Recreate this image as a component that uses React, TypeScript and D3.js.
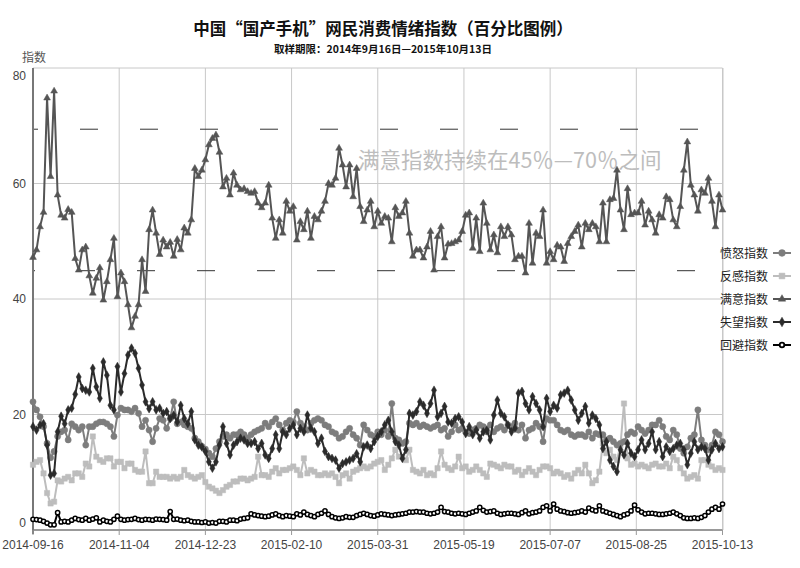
import React from "react";
import * as d3 from "d3";

const titleText = "中国“国产手机”网民消费情绪指数（百分比图例）";
const subtitleText = "取样期限：2014年9月16日—2015年10月13日";
const yAxisTitle = "指数";
const noteText = "满意指数持续在45％—70％之间";
const startDate = "2014-09-16";
const endDate = "2015-10-13";
const stepDays = 2;
const xTickLabels = ["2014-09-16", "2014-11-04", "2014-12-23", "2015-02-10", "2015-03-31", "2015-05-19", "2015-07-07", "2015-08-25", "2015-10-13"];
const yTicks = [0, 20, 40, 60, 80];
const bandValues = [44.9, 69.4];
const seriesNames = ["愤怒指数", "反感指数", "满意指数", "失望指数", "回避指数"];

const anger = [
  22.2, 20.8, 19.6, 17.9, 15, 12.5, 13.6, 16.2, 17, 17.3,
  15.6, 18.4, 17.9, 17.3, 17.9, 14.7, 17.9, 17.9, 18.4, 18.7,
  18.7, 18.4, 17.9, 16.2, 19.9, 21.1, 20.8, 20.8, 20.5, 21.1,
  20.2, 17.9, 19, 17.3, 15.3, 17.6, 19.3, 19, 17.6, 19.3,
  22.2, 18.4, 18.7, 18.2, 17.9, 17.6, 15.9, 15.3, 14.5, 14,
  13.3, 12.7, 14.1, 15.3, 16.2, 16.5, 15.9, 16.5, 16.5, 17,
  16.5, 15.9, 16.5, 17, 17.3, 17.6, 18.5, 17.9, 18.7, 19.3,
  18.2, 17.3, 18.5, 19, 18.7, 20.5, 18.5, 17.9, 17.3, 18.5,
  19, 19.3, 19, 18.2, 17.9, 17, 16.7, 15.9, 16.2, 17,
  17.6, 16.5, 15.9, 14.7, 18.2, 17.3, 16.5, 16.2, 17, 16.5,
  17.3, 16.2, 21.9, 15.9, 15.6, 15, 15.3, 18.5, 18.2, 18.5,
  17.9, 18.2, 17.9, 17.6, 17.9, 18.2, 17.3, 17.6, 16.2, 17,
  18.2, 17.3, 17.6, 17, 16.7, 17.3, 17.6, 18.2, 17.9, 17,
  18.2, 17, 17.6, 17.9, 17.3, 18.2, 17.9, 18.5, 17.3, 18.2,
  15.9, 17.3, 17.6, 18.5, 17.9, 15.3, 19.3, 19, 19, 18.2,
  17.3, 17, 17.3, 16.5, 16.2, 16.5, 16.5, 16.2, 17, 15.9,
  16.7, 16.5, 16.5, 15.6, 15.9, 15.3, 14.7, 15, 15.3, 16.5,
  17, 16.7, 17.9, 17.3, 16.7, 17.3, 18.2, 18.2, 19, 17.9,
  16.2, 15.6, 17.3, 16.5, 14.1, 13.3, 14.4, 15.9, 16.5, 20.8,
  15.6, 14.7, 13.9, 14.7, 17, 16.5, 15.3,
];

const disgust = [
  11.3, 11.8, 12.1, 9.8, 6.4, 4.6, 4.9, 8.6, 8.4, 8.9,
  9.2, 8.6, 9.8, 9.8, 9.2, 11.5, 11, 16.2, 12.7, 12.1,
  11.8, 12.4, 12.4, 11, 11.8, 11.8, 10.7, 11.5, 11.5, 10.4,
  10.1, 10.1, 13.6, 8.1, 8.1, 10.1, 9.2, 9.2, 9.2, 8.9,
  9.2, 8.9, 9.2, 10.4, 9.5, 9.2, 8.9, 9.2, 9.5, 8.3,
  7.5, 7.2, 6.8, 6.4, 6.9, 7.5, 7.8, 8.4, 8.4, 8.9,
  8.9, 8.6, 8.9, 9.2, 12.7, 9.5, 9.5, 9.2, 10.1, 10.7,
  9.8, 10.4, 10.4, 10.7, 11, 10.4, 9.5, 12.4, 9.8, 10.4,
  10.1, 9.5, 9.5, 9.8, 9.5, 9.8, 9.2, 8.1, 9.5, 9.8,
  8.9, 10.1, 10.4, 10.7, 11, 10.7, 11, 11.5, 11.8, 12.1,
  10.4, 11.3, 12.4, 13.9, 12.7, 12.7, 12.1, 13.9, 10.4, 10.1,
  9.8, 10.4, 9.5, 9.8, 9.5, 10.7, 13.6, 11.3, 10.7, 10.4,
  11, 12.7, 10.7, 11, 10.1, 10.4, 11, 10.4, 9.8, 9.2,
  11.5, 11.3, 11, 10.7, 11.3, 11, 11, 10.1, 10.4, 9.5,
  10.1, 10.7, 10.1, 9.5, 10.4, 11, 11, 10.7, 9.8, 10.1,
  9.8, 9.2, 9.5, 8.9, 9.8, 10.4, 9.8, 11.3, 9.8, 8.1,
  8.6, 10.1, 15, 13.3, 13.9, 12.7, 12.1, 14.7, 21.9, 12.4,
  11.3, 11.5, 11, 11.3, 11, 10.7, 11.3, 11.5, 11, 11,
  11.5, 10.7, 12.7, 12.1, 10.7, 9.8, 8.9, 9.2, 9.5, 8.9,
  12.1, 12.1, 11.3, 11, 10.4, 10.7, 10.4,
];

const satisfaction = [
  47.2, 48.5, 52.5, 55, 74.8, 61.2, 76, 58, 54.5, 54,
  55.5, 55, 47, 45, 48.5, 49, 44, 41, 43.6, 45.4,
  39.8, 43, 46.8, 50.5, 40.4, 44.5, 43, 39, 35, 37,
  39, 46.8, 41.3, 52, 55.4, 51.4, 47.7, 50.2, 49, 49.8,
  47.4, 50.3, 48.5, 52.3, 51.4, 53.7, 62.6, 61.2, 62.3, 64.1,
  66.7, 67.8, 68.4, 65.4, 59.4, 60.9, 58, 61.8, 59.7, 58.9,
  59.1, 58.6, 58.3, 58.6, 56.6, 55.8, 56.6, 59.7, 54, 50.5,
  53.7, 51.4, 56.9, 55.2, 56, 50.2, 53.4, 52, 55.2, 50.5,
  54.3, 53.7, 55.2, 56.9, 60, 59.7, 60.9, 66.1, 63.2, 59.4,
  63.2, 57.7, 62.6, 56, 53.4, 55.4, 56.9, 52.5, 55.2, 53.1,
  54.3, 54, 49.9, 55.8, 54.3, 54.9, 56.9, 51.4, 47.4, 48.5,
  48.5, 47.1, 49, 51.7, 45, 50.8, 52.5, 47.1, 49.5, 49.6,
  49.9, 50.2, 51.7, 54.5, 54.9, 48.8, 54, 48.2, 56.6, 53.1,
  48.5, 51.1, 48, 52.5, 50.8, 52.5, 51.1, 46.8, 47.4, 47.4,
  44.5, 53.1, 46.2, 51.4, 50.8, 55.4, 46.2, 48.2, 46.8, 49.3,
  49, 46.5, 49.6, 50.8, 51.7, 52.8, 49, 53.1, 52, 53.1,
  52.5, 49.9, 56.6, 49.9, 57.2, 57.4, 62.3, 55.4, 52, 59.1,
  54.6, 54.9, 54.9, 56.9, 52.8, 55.2, 53.7, 51.4, 54.6, 54,
  57.7, 57.2, 53.7, 52.5, 56, 62.3, 67.2, 59.7, 58, 55.2,
  58.9, 58.3, 60.9, 56.9, 52.5, 58, 55.4,
];

const disappointment = [
  17.9, 17.3, 18.2, 18.4, 14.7, 9.5, 9.8, 17, 19.7, 18.4,
  20.8, 21.1, 23.5, 26.5, 24.5, 24.2, 23.9, 28, 24.8, 22.8,
  29.1, 26.8, 21.6, 20.8, 28.3, 23.9, 27.1, 30.3, 31.5, 30.6,
  28, 25.1, 22.2, 21, 22.2, 20.8, 21.1, 20.2, 20.5, 19.3,
  19.9, 18.7, 21.6, 19.3, 18.4, 20.5, 15.6, 14.7, 14.4, 13.6,
  11.8, 10.7, 11.8, 14.7, 17.9, 15, 13, 14.7, 15.3, 15.9,
  15.6, 15, 15, 15.3, 14.1, 15, 13, 12.4, 14.1, 16.5,
  14.1, 17, 16.5, 17.6, 18.2, 16.5, 17.6, 17, 19.9, 17.6,
  17, 15, 15.9, 13.6, 12.7, 12.4, 12.1, 10.7, 11.5, 11.8,
  12.1, 12.4, 13.2, 11.8, 14.4, 14.7, 14.1, 15.3, 16.2, 17,
  18.2, 19, 17, 15.3, 14.7, 12.4, 13.9, 20.2, 19.9, 20.5,
  22.2, 21.6, 20.2, 21.9, 24.2, 19.6, 20.2, 21.4, 18.7, 18.5,
  19.3, 19.6, 18.7, 16.7, 17.9, 16.5, 17.3, 15.9, 17, 17.3,
  15.6, 19.9, 22.5, 20.2, 19.6, 18.2, 17, 17.6, 23.7, 24,
  21.9, 20.8, 23.1, 21.9, 20.8, 17.9, 22.8, 20.5, 21.6, 21.1,
  23.4, 23.7, 24.2, 22.5, 20.8, 19, 20.2, 21.4, 18.5, 19.9,
  19.3, 18.2, 14.1, 15.3, 12.1, 11, 10.1, 13.9, 13, 15,
  13.3, 12.7, 13.9, 15.6, 13.9, 15, 17, 13.9, 15.3, 12.7,
  14.4, 13.6, 14.1, 14.7, 15, 13.9, 11.3, 13.3, 15.3, 13.9,
  14.4, 14.1, 12.1, 13.9, 15, 14.1, 14.4,
];

const avoidance = [
  1.85, 1.8, 1.7, 1.5, 1.2, 0.9, 0.9, 3.0, 1.4, 1.5,
  1.4, 1.7, 2.0, 1.8, 1.7, 2.0, 1.7, 1.9, 2.1, 1.4,
  1.7, 1.5, 1.4, 1.85, 2.4, 1.85, 1.7, 1.8, 1.85, 2.0,
  1.8, 1.7, 1.85, 1.8, 1.7, 1.9, 1.85, 1.8, 1.7, 3.2,
  1.85, 1.9, 1.7, 1.6, 1.7, 1.5, 1.4, 1.4, 1.3, 1.4,
  1.2, 1.3, 1.2, 1.5, 1.5, 1.4, 1.7, 1.7, 1.6, 1.9,
  2.0, 2.1, 2.8, 2.6, 2.5, 2.4, 2.3, 2.4, 2.6, 2.8,
  2.5, 2.3, 2.5, 2.4, 2.3, 2.8, 2.6, 3.1, 2.7, 2.5,
  2.3, 2.7, 2.9, 3.3, 2.7, 2.3, 2.1, 2.0, 2.1, 2.3,
  2.2, 2.2, 2.5, 2.7, 2.9, 2.7, 2.5, 2.4, 2.6, 2.8,
  2.7, 2.6, 2.5, 2.6, 2.7, 2.8, 2.9, 3.1, 3.1, 3.2,
  3.1, 3.1, 2.9, 2.8, 2.9, 3.1, 3.9, 3.2, 3.1, 2.9,
  2.8, 2.9, 2.8, 2.7, 2.9, 3.1, 3.3, 3.9, 3.4, 3.1,
  3.2, 3.3, 2.9, 2.7, 2.8, 2.9, 2.9, 2.8, 2.7, 3.0,
  3.3, 2.8, 3.0, 3.1, 3.3, 3.9, 4.2, 3.3, 4.5, 3.6,
  3.3, 3.2, 3.0, 2.9, 3.0, 3.1, 3.3, 3.1, 3.8, 3.5,
  3.3, 4.2, 3.3, 3.1, 2.9, 2.7, 2.5, 2.3, 2.6, 2.8,
  3.3, 4.3, 3.5, 3.1, 2.8, 2.9, 2.9, 2.8, 2.7, 2.7,
  2.8, 2.9, 3.1, 2.8, 2.5, 2.1, 2.0, 2.0, 2.1, 2.0,
  2.2, 2.5, 3.1, 3.6, 3.9, 3.6, 4.5,
];

const seriesValues = [anger, disgust, satisfaction, disappointment, avoidance];

// styles (kept apart from the data)
const seriesStyles = [
  { color: "#7d7d7d", fill: "#7d7d7d", symbol: d3.symbolCircle, size: 30, width: 2 },
  { color: "#bdbdbd", fill: "#bdbdbd", symbol: d3.symbolSquare, size: 28, width: 2 },
  { color: "#555555", fill: "#555555", symbol: d3.symbolTriangle, size: 20, width: 2 },
  { color: "#2b2b2b", fill: "#2b2b2b", symbol: d3.symbolDiamond, size: 22, width: 2 },
  { color: "#000000", fill: "#ffffff", symbol: d3.symbolCircle, size: 14, width: 2 },
];
const drawOrder = [1, 0, 3, 2, 4];

const W = 800;
const H = 568;
const M = { left: 33, right: 722.5, top: 68, bottom: 530 };
const FONT = "'Liberation Sans', Arial, sans-serif";
const CJK = "'Noto Sans CJK SC', 'Noto Sans', sans-serif";

export default function App() {
  const parse = d3.utcParse("%Y-%m-%d");
  const d0 = parse(startDate)!;
  const d1 = parse(endDate)!;
  const x = d3.scaleUtc().domain([d0, d1]).range([M.left, M.right]);
  const y = d3.scaleLinear().domain([0, 80]).range([M.bottom, M.top]);
  const dateAt = (i: number) => d3.utcDay.offset(d0, i * stepDays);
  const tickDates = xTickLabels.map((s) => parse(s)!);

  const line = d3
    .line<number>()
    .x((_, i) => x(dateAt(i)))
    .y((v) => y(v));

  const legendY0 = 253;
  const legendGap = 23;

  return (
    <svg width={W} height={H} style={{ display: "block", position: "absolute", left: 0, top: 0, background: "#fff" }}>
      <rect x={0} y={0} width={W} height={H} fill="#fff" />
      {/* titles */}
      <text x={383} y={35} textAnchor="middle" fontFamily={CJK} fontWeight="bold" fontSize={16.5} fill="#111">
        {titleText}
      </text>
      <text x={383} y={52.5} textAnchor="middle" fontFamily={CJK} fontWeight="bold" fontSize={10.5} fill="#111">
        {subtitleText}
      </text>
      <text x={22} y={62} fontFamily={CJK} fontSize={12} fill="#555">
        {yAxisTitle}
      </text>

      {/* grid */}
      {yTicks.map((t) => (
        <line key={"gy" + t} x1={M.left} x2={M.right} y1={y(t)} y2={y(t)} stroke="#c8c8c8" strokeWidth={1} />
      ))}
      {tickDates.map((d, k) => (
        <line key={"gx" + k} x1={x(d)} x2={x(d)} y1={M.top} y2={M.bottom} stroke="#c8c8c8" strokeWidth={1} />
      ))}
      <line x1={M.right + 0.5} x2={M.right + 0.5} y1={M.top} y2={M.bottom} stroke="#c8c8c8" strokeWidth={1} />

      {/* band lines */}
      {bandValues.map((v, k) => (
        <line
          key={"band" + k}
          x1={M.left}
          x2={M.right}
          y1={y(v)}
          y2={y(v)}
          stroke="#333"
          strokeWidth={1}
          strokeDasharray="18 42"
          strokeDashoffset={k === 0 ? 16 : 13}
        />
      ))}

      {/* note */}
      <text x={358} y={168} fontFamily={CJK} fontSize={21.5} fill="#bdbdbd">
        {noteText}
      </text>

      {/* axes */}
      <line x1={M.left} x2={M.right} y1={M.bottom} y2={M.bottom} stroke="#999" strokeWidth={2} />
      <line x1={M.left} x2={M.left} y1={M.top} y2={M.bottom + 4} stroke="#777" strokeWidth={2} />
      {tickDates.map((d, k) => (
        <g key={"xt" + k}>
          <line x1={x(d)} x2={x(d)} y1={M.bottom} y2={M.bottom + 5} stroke="#999" strokeWidth={1} />
          <text x={x(d)} y={549} textAnchor="middle" fontFamily={FONT} fontSize={12} fill="#444">
            {xTickLabels[k]}
          </text>
        </g>
      ))}
      {yTicks.map((t) => {
        let yy = y(t) + 4;
        if (t === 80) yy = 80;
        if (t === 0) yy = 527;
        return (
          <text key={"yt" + t} x={26} y={yy} textAnchor="end" fontFamily={FONT} fontSize={12} fill="#444">
            {t}
          </text>
        );
      })}

      {/* series */}
      {drawOrder.map((si) => {
        const st = seriesStyles[si];
        const vals = seriesValues[si];
        const sym = d3.symbol().type(st.symbol).size(st.size)()!;
        return (
          <g key={"s" + si}>
            <path d={line(vals)!} fill="none" stroke={st.color} strokeWidth={st.width} strokeLinejoin="round" />
            {vals.map((v, i) => (
              <path
                key={i}
                d={sym}
                transform={`translate(${x(dateAt(i))},${y(v)})`}
                fill={st.fill}
                stroke={st.color}
                strokeWidth={si === 4 ? 1.5 : 0.5}
              />
            ))}
          </g>
        );
      })}

      {/* legend */}
      {seriesNames.map((name, k) => {
        const st = seriesStyles[k];
        const ly = legendY0 + k * legendGap;
        const sym = d3.symbol().type(st.symbol).size(st.size * 1.2)()!;
        return (
          <g key={"lg" + k}>
            <text x={720} y={ly + 4.5} fontFamily={CJK} fontSize={12} fill="#222">
              {name}
            </text>
            <line x1={773} x2={791} y1={ly} y2={ly} stroke={st.color} strokeWidth={2} />
            <path d={sym} transform={`translate(782,${ly})`} fill={st.fill} stroke={st.color} strokeWidth={k === 4 ? 1.8 : 0.5} />
          </g>
        );
      })}
    </svg>
  );
}
